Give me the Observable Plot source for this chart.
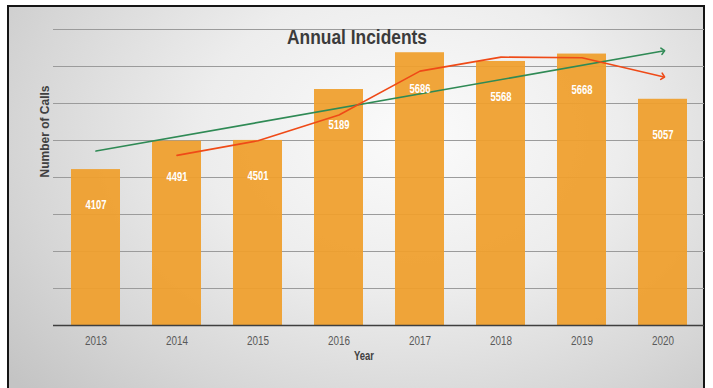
<!DOCTYPE html>
<html><head><meta charset="utf-8">
<script src="https://cdn.jsdelivr.net/npm/d3@7"></script>
<script src="https://cdn.jsdelivr.net/npm/@observablehq/plot@0.6"></script>
<style>
html,body{margin:0;padding:0;background:#fff;}
#wrap{position:relative;width:713px;height:388px;overflow:hidden;background:#fff;}
#frame{position:absolute;left:7px;top:5px;width:694px;height:400px;border:2px solid #151515;
  background:radial-gradient(ellipse 75% 95% at 58% 32%, #fbfbfb 0%, #ededed 40%, #d6d6d6 75%, #c4c4c4 100%);}
#chart{position:absolute;left:0;top:0;}
</style></head><body>
<div id="wrap"><div id="frame"></div><div id="chart"></div></div>
<script>
const years = ["2013","2014","2015","2016","2017","2018","2019","2020"];
const calls = [4107, 4491, 4501, 5189, 5686, 5568, 5668, 5057];
const gridValues = [2500, 3000, 3500, 4000, 4500, 5000, 5500, 6000];
const yMin = 2000, yMax = 6000;
const titleText = "Annual Incidents";
const xLabel = "Year";
const yLabel = "Number of Calls";

const data = years.map((year, i) => ({year, calls: calls[i]}));

// linear trend line (least squares) derived from the data
const idx = d3.range(years.length);
const mx = d3.mean(idx), my = d3.mean(calls);
const slope = d3.sum(idx, i => (i - mx) * (calls[i] - my)) / d3.sum(idx, i => (i - mx) ** 2);
const intercept = my - slope * mx;
const trend = [
  {year: years[0], calls: intercept},
  {year: years[years.length - 1], calls: intercept + slope * (years.length - 1)}
];

const font = "'Liberation Sans',Arial,sans-serif";

const plot = Plot.plot({
  width: 713, height: 388,
  marginLeft: 53, marginRight: 9, marginTop: 29, marginBottom: 63,
  style: {background: "transparent", fontFamily: font, overflow: "visible"},
  x: {type: "band", domain: years, paddingInner: 0.4, paddingOuter: 0.2, label: null},
  y: {domain: [yMin, yMax], axis: null},
  marks: [
    Plot.ruleY(gridValues, {stroke: "#9b9b9b", strokeWidth: 1}),
    Plot.barY(data, {x: "year", y1: () => yMin, y2: "calls", fill: "#EF9F2E", fillOpacity: 0.94}),
    Plot.ruleY([yMin], {stroke: "#3f3f3f", strokeWidth: 1.5}),
    Plot.axisX({tickSize: 0, tickPadding: 11, fontSize: 12, fill: "#595959", label: null}),
    Plot.line(trend, {x: "year", y: "calls", stroke: "#2F8A55", strokeWidth: 1.6, markerEnd: "arrow"}),
    Plot.lineY(data, Plot.windowY({k: 2, anchor: "end", strict: true, reduce: "mean"},
      {x: "year", y: "calls", stroke: "#EF4A17", strokeWidth: 1.6, markerEnd: "arrow"})),
    Plot.text(data, {x: "year", y: "calls", text: d => String(d.calls), dy: 36,
      fill: "white", fontWeight: "bold", fontSize: 12}),
    Plot.text([titleText], {frameAnchor: "top", dx: -22, dy: 0,
      fontSize: 21, fontWeight: "bold", fill: "#3b3b3b"}),
    Plot.text([xLabel], {frameAnchor: "bottom", dx: -15, dy: 34,
      fontSize: 12, fontWeight: "bold", fill: "#404040"}),
    Plot.text([yLabel], {frameAnchor: "left", dx: -8, rotate: -90,
      fontSize: 12, fontWeight: "bold", fill: "#404040"})
  ]
});

// emulate the narrow typeface of the original by condensing glyphs
d3.select(plot).selectAll("text").each(function() {
  const t = this.textContent;
  const parentLabel = (this.parentNode.getAttribute("aria-label") || "");
  let len = null;
  if (t === titleText) len = 140;
  else if (t === xLabel) len = 20;
  else if (/^\d{4}$/.test(t)) len = parentLabel.includes("tick") ? 22 : 21;
  if (len) {
    this.setAttribute("textLength", len);
    this.setAttribute("lengthAdjust", "spacingAndGlyphs");
  }
});
document.getElementById("chart").appendChild(plot);
</script>
</body></html>
